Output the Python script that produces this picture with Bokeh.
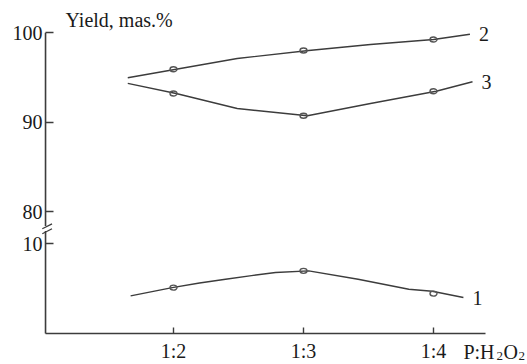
import numpy as np
from bokeh.plotting import figure
from bokeh.models import FixedTicker, Range1d
from bokeh.core.properties import value
from bokeh.embed import file_html
from bokeh.resources import INLINE

# --- data -------------------------------------------------------------
ratio_pos = [2, 3, 4]
ratio_labels = ["1:2", "1:3", "1:4"]

# measured yields at each P:H2O2 ratio
yield_1 = [5.13, 7.0, 4.46]
yield_2 = [95.93, 98.02, 99.25]
yield_3 = [93.22, 90.73, 93.47]

# smoothed trend curves through the measurements
fit1_x = [1.67, 1.99, 2.20, 2.40, 2.60, 2.785, 3.04, 3.42, 3.81, 3.99, 4.23]
fit1_y = [4.21, 5.13, 5.64, 6.06, 6.47, 6.81, 7.0, 6.06, 4.94, 4.72, 4.02]
fit2_x = [1.648, 2.02, 2.49, 3.04, 3.515, 4.0, 4.28]
fit2_y = [94.97, 95.93, 97.13, 98.02, 98.69, 99.25, 99.84]
fit3_x = [1.648, 2.02, 2.49, 3.03, 3.515, 4.02, 4.30]
fit3_y = [94.34, 93.22, 91.54, 90.73, 92.10, 93.47, 94.53]

series_names = ["1", "2", "3"]

y_tick_values = [10, 80, 90, 100]
y_tick_labels = ["10", "80", "90", "100"]

# the y axis is broken between 10 and 80: values above the break are shifted down
BREAK_SHIFT = 66.4
BREAK_LOW, BREAK_HIGH = 11.45, 12.0


def to_display(v):
    a = np.asarray(v, dtype=float)
    return np.where(a > 50, a - BREAK_SHIFT, a)


FONT = "Liberation Serif"
FS = "20px"
INK = "#1a1a1a"
LINE = "#3c3c3c"

X_AXIS_AT = 1.0154   # where the vertical axis sits
X_AXIS_END = 4.40

p = figure(width=527, height=364, output_backend="svg", toolbar_location=None,
           x_range=Range1d(0.669, 4.723), y_range=Range1d(-3.464, 37.207),
           min_border=0, min_border_left=0, min_border_right=0,
           min_border_top=0, min_border_bottom=0)
p.outline_line_color = None
p.grid.visible = False
p.background_fill_color = "white"
p.border_fill_color = "white"

# axes pinned inside the frame
p.xaxis.fixed_location = 0
p.yaxis.fixed_location = X_AXIS_AT
for ax in (p.xaxis[0], p.yaxis[0]):
    ax.axis_line_color = None
    ax.minor_tick_line_color = None
    ax.major_tick_out = 0
    ax.major_tick_line_color = LINE
    ax.major_tick_line_width = 1.4
    ax.major_label_text_font = FONT
    ax.major_label_text_font_size = FS
    ax.major_label_text_color = INK

p.xaxis.ticker = FixedTicker(ticks=ratio_pos)
p.xaxis.major_label_overrides = {k: v for k, v in zip(ratio_pos, ratio_labels)}
p.xaxis.major_tick_in = 6
p.xaxis.major_label_standoff = 7

y_disp_ticks = [float(t) for t in to_display(y_tick_values)]
p.yaxis.ticker = FixedTicker(ticks=y_disp_ticks)
p.yaxis.major_label_overrides = {k: v for k, v in zip(y_disp_ticks, y_tick_labels)}
p.yaxis.major_tick_in = 8
p.yaxis.major_label_standoff = 3

# axis lines, with a gap at the break
p.segment(x0=[X_AXIS_AT, X_AXIS_AT, X_AXIS_AT], y0=[0, 0, BREAK_HIGH],
          x1=[X_AXIS_END, X_AXIS_AT, X_AXIS_AT], y1=[0, BREAK_LOW, float(to_display(100))],
          line_color=LINE, line_width=1.6)
# break marks
dx = 0.025
p.segment(x0=[X_AXIS_AT - dx, X_AXIS_AT - dx], y0=[BREAK_LOW - 0.3, BREAK_HIGH - 0.3],
          x1=[X_AXIS_AT + 2 * dx, X_AXIS_AT + 2 * dx], y1=[BREAK_LOW + 0.25, BREAK_HIGH + 0.25],
          line_color=LINE, line_width=1.3)

# curves, markers and curve numbers
fits = [(fit1_x, fit1_y), (fit2_x, fit2_y), (fit3_x, fit3_y)]
points = [yield_1, yield_2, yield_3]
for name, (fx, fy), pts in zip(series_names, fits, points):
    p.line(fx, to_display(fy), line_color=LINE, line_width=1.4)
    p.ellipse(x=ratio_pos, y=to_display(pts), width=7, height=5,
              width_units="screen", height_units="screen",
              fill_color=None, line_color="#555555", line_width=1.4)
    p.text(x=[fx[-1]], y=[float(to_display(fy[-1]))], text=[name],
           x_offset=9, text_baseline="middle", text_align="left",
           text_font=value(FONT), text_font_size=FS, text_color=INK)

# axis titles
p.text(x=[1.169], y=[35.03], text=["Yield, mas.%"], text_font=value(FONT),
       text_font_size=FS, text_color=INK, text_baseline="middle")

# P:H2O2 with subscripts, beside the last tick label
MID_Y = -2.12
SUB_DROP = 0.45
for txt, dx_px, size, drop in [("P:H", 0, FS, 0.0), ("2", 33, "13px", SUB_DROP),
                               ("O", 40, FS, 0.0), ("2", 55, "13px", SUB_DROP)]:
    p.text(x=[4.23], y=[MID_Y - drop], x_offset=dx_px, text=[txt],
           text_font=value(FONT), text_font_size=size, text_color=INK,
           text_baseline="middle")

open("out.html", "w").write(file_html(p, INLINE))
